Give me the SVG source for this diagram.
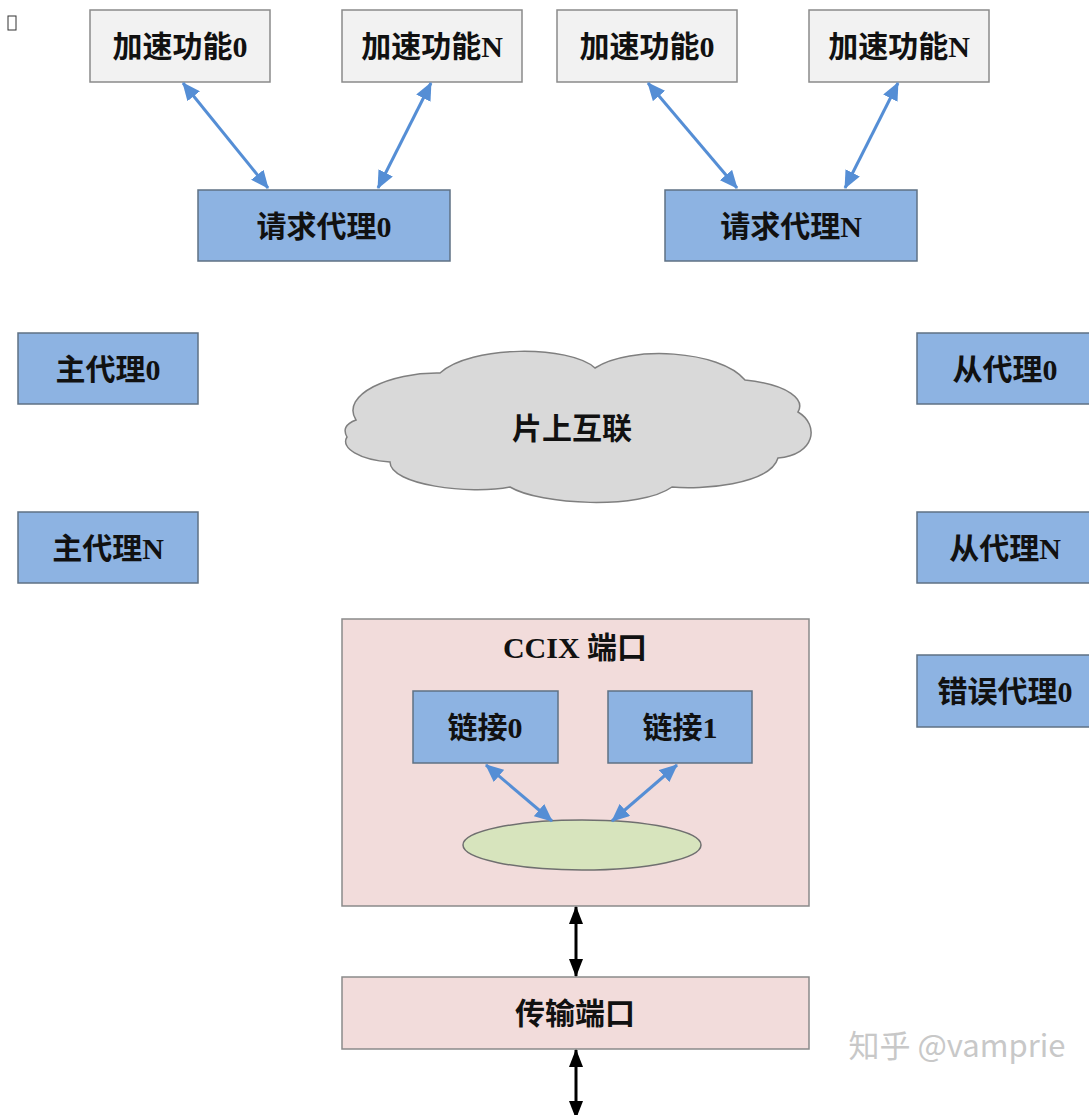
<svg xmlns="http://www.w3.org/2000/svg" width="1089" height="1115" viewBox="0 0 1089 1115">
<style>
.t{font-family:"Liberation Serif","Noto Sans CJK SC",sans-serif;font-weight:bold;font-size:30px;fill:#111;text-anchor:middle}
.grey{fill:#f2f2f2;stroke:#8a8a8a;stroke-width:1.5}
.blue{fill:#8db3e2;stroke:#5f7184;stroke-width:1.5}
.pink{fill:#f2dcdb;stroke:#8a8a8a;stroke-width:1.5}
.ba{stroke:#558ed5;stroke-width:3;fill:none;marker-start:url(#bh);marker-end:url(#bh)}
.ka{stroke:#000;stroke-width:3;fill:none;marker-start:url(#kh);marker-end:url(#kh)}
</style>
<defs>
<marker id="bh" viewBox="0 0 18 16" refX="17" refY="8" markerWidth="18" markerHeight="16" markerUnits="userSpaceOnUse" orient="auto-start-reverse"><path d="M0,0 L18,8 L0,16 Z" fill="#558ed5"/></marker>
<marker id="kh" viewBox="0 0 18 14" refX="17" refY="7" markerWidth="18" markerHeight="14" markerUnits="userSpaceOnUse" orient="auto-start-reverse"><path d="M0,0 L18,7 L0,14 Z" fill="#000"/></marker>
</defs>
<rect width="1089" height="1115" fill="#fff"/>
<rect x="8" y="16" width="8" height="14" fill="none" stroke="#333" stroke-width="1"/>

<g id="acc0a"><rect class="grey" x="90" y="10" width="180" height="72"/><text class="t" x="180" y="57">加速功能0</text></g>
<g id="accNa"><rect class="grey" x="342" y="10" width="180" height="72"/><text class="t" x="432" y="57">加速功能N</text></g>
<g id="acc0b"><rect class="grey" x="557" y="10" width="180" height="72"/><text class="t" x="647" y="57">加速功能0</text></g>
<g id="accNb"><rect class="grey" x="809" y="10" width="180" height="72"/><text class="t" x="899" y="57">加速功能N</text></g>

<g id="req0"><rect class="blue" x="198" y="190" width="252" height="71"/><text class="t" x="324" y="237">请求代理0</text></g>
<g id="reqN"><rect class="blue" x="665" y="190" width="252" height="71"/><text class="t" x="791" y="237">请求代理N</text></g>

<g id="home0"><rect class="blue" x="18" y="333" width="180" height="71"/><text class="t" x="108" y="380">主代理0</text></g>
<g id="homeN"><rect class="blue" x="18" y="512" width="180" height="71"/><text class="t" x="108" y="559">主代理N</text></g>

<g id="slave0"><rect class="blue" x="917" y="333" width="180" height="71"/><text class="t" x="1005" y="380">从代理0</text></g>
<g id="slaveN"><rect class="blue" x="917" y="512" width="180" height="71"/><text class="t" x="1005" y="559">从代理N</text></g>
<g id="err0"><rect class="blue" x="917" y="655" width="180" height="72"/><text class="t" x="1005" y="702">错误代理0</text></g>

<g id="cloud">
<path d="M356,420 C340,395 390,372 440,373 C470,345 570,345 595,368 C630,345 720,350 745,380 C790,385 805,400 798,412 C820,425 815,455 778,458 C770,485 700,490 672,487 C640,510 540,505 510,487 C470,495 390,485 390,462 C360,460 340,448 347,437 C343,430 345,424 356,420 Z" fill="#d9d9d9" stroke="#7f7f7f" stroke-width="1.5"/>
<text class="t" x="572" y="439">片上互联</text>
</g>

<g id="ccix">
<rect class="pink" x="342" y="619" width="467" height="287"/>
<text class="t" x="575" y="658">CCIX 端口</text>
</g>
<g id="link0"><rect class="blue" x="413" y="691" width="145" height="72"/><text class="t" x="485" y="738">链接0</text></g>
<g id="link1"><rect class="blue" x="608" y="691" width="144" height="72"/><text class="t" x="680" y="738">链接1</text></g>
<g id="switch"><ellipse cx="582" cy="845" rx="119" ry="25" fill="#d7e4bd" stroke="#6f6f6f" stroke-width="1.5"/></g>

<g id="transport"><rect class="pink" x="342" y="977" width="467" height="72"/><text class="t" x="575" y="1024">传输端口</text></g>

<g id="connectors">
<line class="ba" x1="183" y1="83" x2="268" y2="188"/>
<line class="ba" x1="431" y1="83" x2="378" y2="188"/>
<line class="ba" x1="648" y1="83" x2="737" y2="188"/>
<line class="ba" x1="898" y1="83" x2="845" y2="188"/>
<line class="ba" x1="486" y1="765" x2="552" y2="821"/>
<line class="ba" x1="677" y1="765" x2="612" y2="821"/>
<line class="ka" x1="576" y1="907" x2="576" y2="976"/>
<line class="ka" x1="576" y1="1050" x2="576" y2="1118"/>
</g>

<text x="957" y="1057" font-family="Noto Sans CJK SC, sans-serif" font-size="31" fill="#c8c8c8" text-anchor="middle">知乎 @vamprie</text>
</svg>
